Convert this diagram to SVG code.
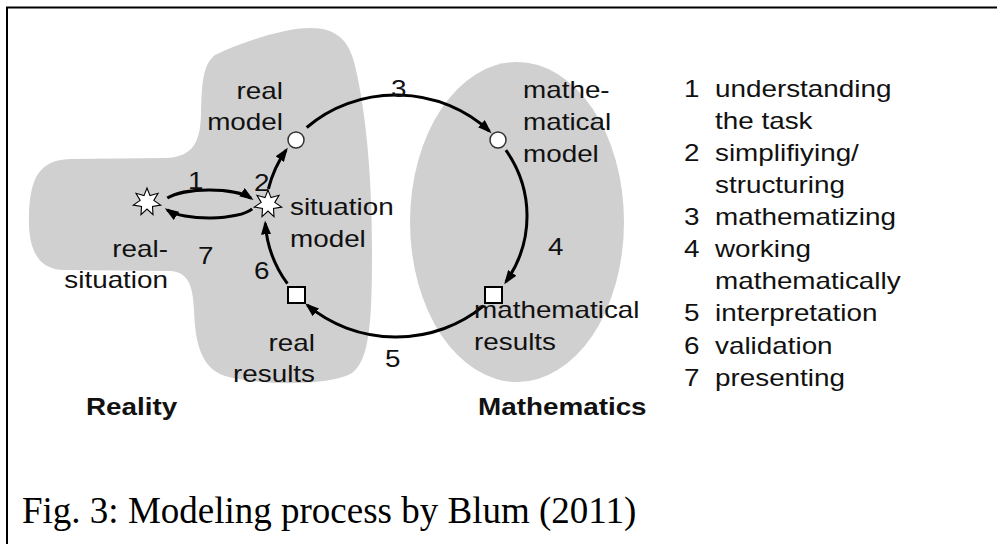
<svg xmlns="http://www.w3.org/2000/svg" xmlns:xlink="http://www.w3.org/1999/xlink" width="997" height="544" viewBox="0 0 997 544">
<style>
.region{fill:#d0d0d0;stroke:none}
.t{font-family:"Liberation Sans",Arial,sans-serif;font-size:24px;fill:#111}
.b{font-family:"Liberation Sans",Arial,sans-serif;font-size:24px;font-weight:bold;fill:#111}
.e{text-anchor:end}
.cap{font-family:"Liberation Serif","Times New Roman",serif;font-size:37px;fill:#000}
.arc{fill:none;stroke:#000;stroke-width:3;marker-end:url(#ah)}
.circ{fill:#fff;stroke:#333;stroke-width:1.5}
.sq{fill:#fff;stroke:#000;stroke-width:2}
.star{fill:#fff;stroke:#000;stroke-width:1.1;stroke-linejoin:miter}
.frame{fill:none;stroke:#000;stroke-width:2}
</style>
<defs>
<marker id="ah" markerUnits="userSpaceOnUse" markerWidth="14" markerHeight="10" viewBox="0 0 14 10" refX="11" refY="5" orient="auto">
<path d="M0,0 L14,5 L0,10 Z" fill="#000"/>
</marker>
<polygon id="starshape" class="star" points="0,-14 3,-6.4 11,-8.7 6.8,-1.6 13.7,3.1 5.5,4.4 6,12.6 0,7 -6,12.6 -5.5,4.4 -13.7,3.1 -6.8,-1.6 -11,-8.7 -3,-6.4"/>
</defs>
<rect width="997" height="544" fill="#fff"/>
<path class="frame" d="M7,545 L7,7.5 L998,7.5"/>
<g id="reality-region">
<path class="region" d="M215,55 C245,41 285,28 310,28 C337,28 350,40 356,70 C365,110 372,170 372,250 C372,320 370,360 352,373 C330,386 260,386 225,376 C200,368 195,340 194,310 C193,285 188,272 170,271 L65,270 C35,270 28,245 29,215 C30,180 38,160 70,159 L165,158 C195,157 200,140 201,115 C202,90 201,66 215,55 Z"/>
<text class="b" transform="matrix(1.16 0 0 1 86 415)">Reality</text>
</g>
<g id="mathematics-region">
<ellipse class="region" cx="517" cy="222" rx="107" ry="160"/>
<text class="b" transform="matrix(1.16 0 0 1 478 415)">Mathematics</text>
</g>
<g id="connectors">
<path id="c1" class="arc" d="M167.3,198.1 A46 14 0 0 1 251,198.3"/>
<path id="c7" class="arc" d="M252.2,208.8 A46 14 0 0 1 167.3,209.9"/>
<path id="c2" class="arc" d="M268.4,188.8 A131 121 0 0 1 286.1,150.1"/>
<path id="c3" class="arc" d="M306.7,127.5 A131 121 0 0 1 489.4,131.2"/>
<path id="c4" class="arc" d="M505.9,150.1 A131 121 0 0 1 505.9,281.9"/>
<path id="c5" class="arc" d="M483.6,305.9 A131 121 0 0 1 307.4,305.2"/>
<path id="c6" class="arc" d="M287.4,283.7 A131 121 0 0 1 265.3,223.4"/>
<text class="t" transform="matrix(1.16 0 0 1 188 189)">1</text>
<text class="t" transform="matrix(1.16 0 0 1 254 191)">2</text>
<text class="t" transform="matrix(1.16 0 0 1 391 97)">3</text>
<text class="t" transform="matrix(1.16 0 0 1 548 255)">4</text>
<text class="t" transform="matrix(1.16 0 0 1 385 367)">5</text>
<text class="t" transform="matrix(1.16 0 0 1 254 279)">6</text>
<text class="t" transform="matrix(1.16 0 0 1 198 264)">7</text>
</g>
<g id="real-situation">
<use xlink:href="#starshape" href="#starshape" transform="translate(147 202)"/>
<text class="t e" transform="matrix(1.16 0 0 1 168 257)">real-</text>
<text class="t e" transform="matrix(1.16 0 0 1 168 288)">situation</text>
</g>
<g id="situation-model">
<use xlink:href="#starshape" href="#starshape" transform="translate(268 204)"/>
<text class="t" transform="matrix(1.16 0 0 1 290 215)">situation</text>
<text class="t" transform="matrix(1.16 0 0 1 290 247)">model</text>
</g>
<g id="real-model">
<circle class="circ" cx="296" cy="140" r="8"/>
<text class="t e" transform="matrix(1.16 0 0 1 283 99)">real</text>
<text class="t e" transform="matrix(1.16 0 0 1 283 130)">model</text>
</g>
<g id="mathematical-model">
<circle class="circ" cx="498" cy="140" r="8"/>
<text class="t" transform="matrix(1.16 0 0 1 523 98)">mathe-</text>
<text class="t" transform="matrix(1.16 0 0 1 523 130)">matical</text>
<text class="t" transform="matrix(1.16 0 0 1 523 162)">model</text>
</g>
<g id="mathematical-results">
<text class="t" transform="matrix(1.16 0 0 1 474 318)">mathematical</text>
<text class="t" transform="matrix(1.16 0 0 1 474 350)">results</text>
<rect class="sq" x="485" y="287" width="17" height="16"/>
</g>
<g id="real-results">
<rect class="sq" x="288" y="287" width="17" height="16"/>
<text class="t e" transform="matrix(1.16 0 0 1 315 351)">real</text>
<text class="t e" transform="matrix(1.16 0 0 1 315 382)">results</text>
</g>
<g id="legend">
<text class="t" transform="matrix(1.16 0 0 1 684 97)">1</text>
<text class="t" transform="matrix(1.16 0 0 1 715 97)">understanding</text>
<text class="t" transform="matrix(1.16 0 0 1 715 129)">the task</text>
<text class="t" transform="matrix(1.16 0 0 1 684 161)">2</text>
<text class="t" transform="matrix(1.16 0 0 1 715 161)">simplifiying/</text>
<text class="t" transform="matrix(1.16 0 0 1 715 193)">structuring</text>
<text class="t" transform="matrix(1.16 0 0 1 684 225)">3</text>
<text class="t" transform="matrix(1.16 0 0 1 715 225)">mathematizing</text>
<text class="t" transform="matrix(1.16 0 0 1 684 257)">4</text>
<text class="t" transform="matrix(1.16 0 0 1 715 257)">working</text>
<text class="t" transform="matrix(1.16 0 0 1 715 289)">mathematically</text>
<text class="t" transform="matrix(1.16 0 0 1 684 321)">5</text>
<text class="t" transform="matrix(1.16 0 0 1 715 321)">interpretation</text>
<text class="t" transform="matrix(1.16 0 0 1 684 354)">6</text>
<text class="t" transform="matrix(1.16 0 0 1 715 354)">validation</text>
<text class="t" transform="matrix(1.16 0 0 1 684 386)">7</text>
<text class="t" transform="matrix(1.16 0 0 1 715 386)">presenting</text>
</g>
<g id="caption">
<text class="cap" x="22" y="523">Fig. 3: Modeling process by Blum (2011)</text>
</g>
</svg>
